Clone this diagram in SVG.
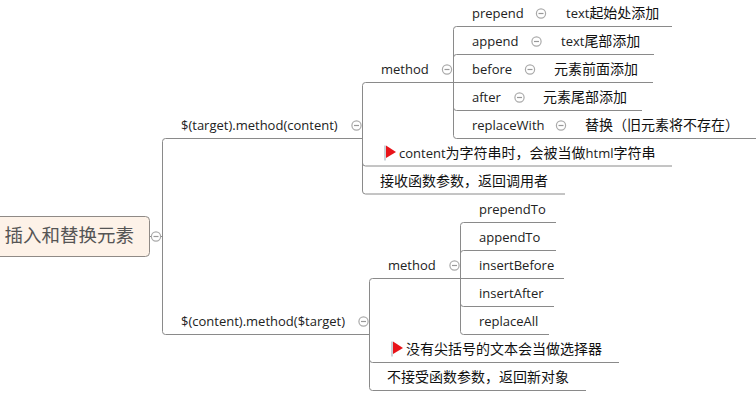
<svg xmlns="http://www.w3.org/2000/svg" width="756" height="404" viewBox="0 0 756 404">
<style>
text{font-family:"Open Sans","Noto Sans CJK SC",sans-serif;font-size:13px;fill:#222}
.z{font-size:14px;fill:#111}
.c{fill:none;stroke:#8a8a8a;stroke-width:1}
.t{fill:#fff;stroke:#aaa;stroke-width:1.2}
.m{stroke:#999;stroke-width:1.2}
</style>
<defs>
<g id="tog"><circle class="t" r="4.6"/><path class="m" d="M-2.5 0H2.5"/></g>
<g id="flag"><path d="M0 0V15" stroke="#b9c4cc" stroke-width="1.5"/><path d="M1 0L11 6.500L1 12.500Z" fill="#e8141a"/></g>
</defs>
<g id="connectors">
<path class="c" d="M150 236.500H162.500M362.500 138.500H165.500Q162.500 138.500 162.500 141.500V331.500Q162.500 334.500 165.500 334.500H369.500"/>
<path class="c" d="M453.500 82.500H365.500Q362.500 82.500 362.500 85.500V191Q362.500 194 365.500 194H565M362.500 138.500V163Q362.500 166 365.500 166H672"/>
<path class="c" d="M672 26.500H456.500Q453.500 26.500 453.500 29.500V135.500Q453.500 138.500 456.500 138.500H756M453.500 57.500Q453.500 54.500 456.500 54.500H654M453.500 82.500H653M453.500 107.500Q453.500 110.500 456.500 110.500H642"/>
<path class="c" d="M460.500 278.500H372.500Q369.500 278.500 369.500 281.500V387.500Q369.500 390.500 372.500 390.500H586M369.500 334.500V359.500Q369.500 362.500 372.500 362.500H619"/>
<path class="c" d="M556 222.500H463.500Q460.500 222.500 460.500 225.500V331.500Q460.500 334.500 463.500 334.500H549M460.500 253.500Q460.500 250.500 463.500 250.500H556M460.500 278.500H564M460.500 303.500Q460.500 306.500 463.500 306.500H554"/>
</g>
<g id="root"><rect x="-8" y="216.500" width="157.500" height="40" rx="4" fill="#fdf2e8" stroke="#8f8a86"/><text x="4.500" y="242" style="font-size:18.500px;fill:#555">插入和替换元素</text><use href="#tog" x="156" y="236.500"/></g>
<g id="n1"><text x="181" y="130">$(target).method(content)</text><use href="#tog" x="356.500" y="125.500"/></g>
<g id="n2"><text x="181" y="326">$(content).method($target)</text><use href="#tog" x="363.500" y="321.500"/></g>
<g id="n3"><text x="381" y="74">method</text><use href="#tog" x="447" y="69.500"/></g>
<g id="n4"><text x="472" y="18">prepend</text><use href="#tog" x="541" y="13.500"/><text x="566" y="18">text<tspan class="z">起始处添加</tspan></text></g>
<g id="n5"><text x="472" y="46">append</text><use href="#tog" x="536.500" y="41.500"/><text x="561" y="46">text<tspan class="z">尾部添加</tspan></text></g>
<g id="n6"><text x="472" y="74">before</text><use href="#tog" x="530" y="69.500"/><text x="554" y="74" class="z">元素前面添加</text></g>
<g id="n7"><text x="472" y="102">after</text><use href="#tog" x="519.500" y="97.500"/><text x="543" y="102" class="z">元素尾部添加</text></g>
<g id="n8"><text x="472" y="130">replaceWith</text><use href="#tog" x="561" y="125.500"/><text x="585" y="130" class="z">替换（旧元素将不存在）</text></g>
<g id="n9"><use href="#flag" x="385" y="145.500"/><text x="399" y="158">content<tspan class="z">为字符串时，会被当做</tspan>html<tspan class="z">字符串</tspan></text></g>
<g id="n10"><text x="380" y="186" class="z">接收函数参数，返回调用者</text></g>
<g id="n11"><text x="388" y="270">method</text><use href="#tog" x="454.500" y="265.500"/></g>
<g id="n12"><text x="479" y="214">prependTo</text></g>
<g id="n13"><text x="479" y="242">appendTo</text></g>
<g id="n14"><text x="479" y="270">insertBefore</text></g>
<g id="n15"><text x="479" y="298">insertAfter</text></g>
<g id="n16"><text x="479" y="326">replaceAll</text></g>
<g id="n17"><use href="#flag" x="392" y="341.500"/><text x="406" y="354" class="z">没有尖括号的文本会当做选择器</text></g>
<g id="n18"><text x="387" y="382" class="z">不接受函数参数，返回新对象</text></g>
</svg>
